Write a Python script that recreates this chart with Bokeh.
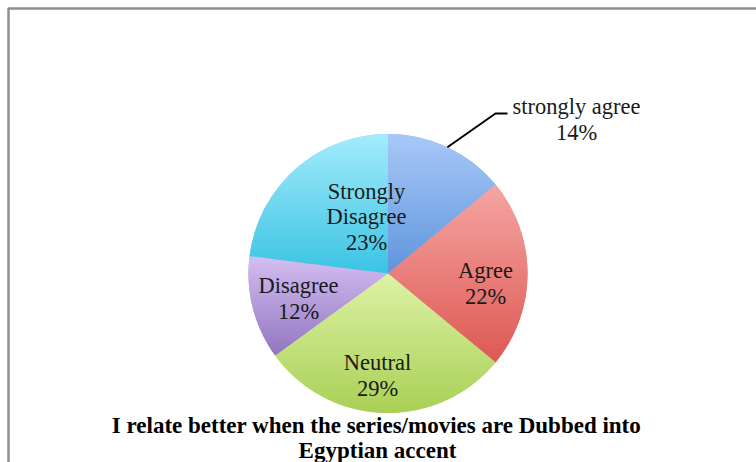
import numpy as np
from bokeh.plotting import figure
from bokeh.models import Range1d
from bokeh.core.properties import value
from bokeh.embed import file_html
from bokeh.resources import INLINE

# ---- data ----
categories = ["strongly agree", "Agree", "Neutral", "Disagree", "Strongly Disagree"]
percents = [14, 22, 29, 12, 23]
title_lines = ["I relate better when the series/movies are Dubbed into", "Egyptian accent"]

# ---- style / layout ----
W, H = 756, 462
CX, CY_S, R = 387.5, 273.0, 139.5   # centre (screen y) and radius in px
top_colors = ["#a9c8f7", "#f5a6a3", "#ddf2a6", "#d4bff2", "#a4ecfb"]
bot_colors = ["#5f95dc", "#de5853", "#a9d056", "#9276c0", "#3cc3e4"]
FONT = "Liberation Serif"
label_pos = [  # screen coords of label block centres (layout)
    (576, 119), (485, 283), (377, 375), (298, 298), (366, 216)
]
label_lines = [
    ["strongly agree", "14%"], ["Agree", "22%"], ["Neutral", "29%"],
    ["Disagree", "12%"], ["Strongly", "Disagree", "23%"],
]


def sy(y):
    return H - y


def hex2rgb(h):
    return np.array([int(h[i:i + 2], 16) for i in (1, 3, 5)], dtype=float)


def mix(a, b, t):
    c = hex2rgb(a) * (1 - t) + hex2rgb(b) * t
    return "#%02x%02x%02x" % tuple(int(round(v)) for v in c)


def clip(poly, y0, keep_above):
    out = []
    n = len(poly)
    for i in range(n):
        p, q = poly[i], poly[(i + 1) % n]
        ip = (p[1] >= y0) if keep_above else (p[1] <= y0)
        iq = (q[1] >= y0) if keep_above else (q[1] <= y0)
        if ip:
            out.append(p)
        if ip != iq:
            t = (y0 - p[1]) / (q[1] - p[1])
            out.append((p[0] + t * (q[0] - p[0]), y0))
    return out


p = figure(width=W, height=H, output_backend="svg", toolbar_location=None,
           x_range=Range1d(0, W), y_range=Range1d(0, H),
           x_axis_location=None, y_axis_location=None, min_border=0)
p.grid.visible = False
p.outline_line_color = None
p.background_fill_color = "white"

total = float(sum(percents))
fracs = np.array(percents) / total
cum = np.concatenate([[0], np.cumsum(fracs)])
starts = np.pi / 2 - 2 * np.pi * cum[1:]
ends = np.pi / 2 - 2 * np.pi * cum[:-1]
mids = [mix(a, b, 0.5) for a, b in zip(top_colors, bot_colors)]

# base wedges (flat mid colour)
p.wedge(x=[CX] * len(percents), y=[sy(CY_S)] * len(percents), radius=R,
        start_angle=starts, end_angle=ends, fill_color=mids, line_color=None)

# vertical gradient overlay per slice
bxs, bys, bcols = [], [], []
for i in range(len(percents)):
    a0 = 2 * np.pi * cum[i]
    a1 = 2 * np.pi * cum[i + 1]
    angs = np.linspace(a0, a1, 120)
    poly = [(CX, CY_S)] + [(CX + R * np.sin(a), CY_S - R * np.cos(a)) for a in angs]
    ys = [pt[1] for pt in poly]
    ymin, ymax = min(ys), max(ys)
    nb = 40
    edges = np.linspace(ymin, ymax, nb + 1)
    for k in range(nb):
        sub = clip(poly, edges[k] - 0.4, True)
        sub = clip(sub, edges[k + 1] + 0.4, False)
        if len(sub) < 3:
            continue
        bxs.append([pt[0] for pt in sub])
        bys.append([sy(pt[1]) for pt in sub])
        bcols.append(mix(top_colors[i], bot_colors[i], (k + 0.5) / nb))
p.patches(xs=bxs, ys=bys, fill_color=bcols, line_color=None)

# leader line for first slice
mid_a = 2 * np.pi * (cum[0] + cum[1]) / 2
lx0 = CX + R * np.sin(mid_a)
ly0 = CY_S - R * np.cos(mid_a)
p.line(x=[lx0, 495, 507], y=[sy(ly0), sy(113), sy(113)], line_color="black", line_width=2)

# labels
LH = 25.5
for (x, y), lines in zip(label_pos, label_lines):
    n = len(lines)
    ys_ = [y + (j - (n - 1) / 2) * LH for j in range(n)]
    p.text(x=[x] * n, y=[sy(v) for v in ys_], text=lines, text_align="center",
           text_baseline="middle", text_font=value(FONT), text_font_size="22.5px",
           text_color="#1a1a1a")

# title
p.text(x=[376, 377], y=[sy(425), sy(450)], text=title_lines, text_align="center",
       text_baseline="middle", text_font=value(FONT), text_font_size="23px",
       text_font_style="bold", text_color="black")

# frame border
p.line(x=[8, 8, W + 5], y=[-5, sy(8), sy(8)], line_color="#8f8f8f", line_width=2.5)

open("out.html", "w").write(file_html(p, INLINE))
